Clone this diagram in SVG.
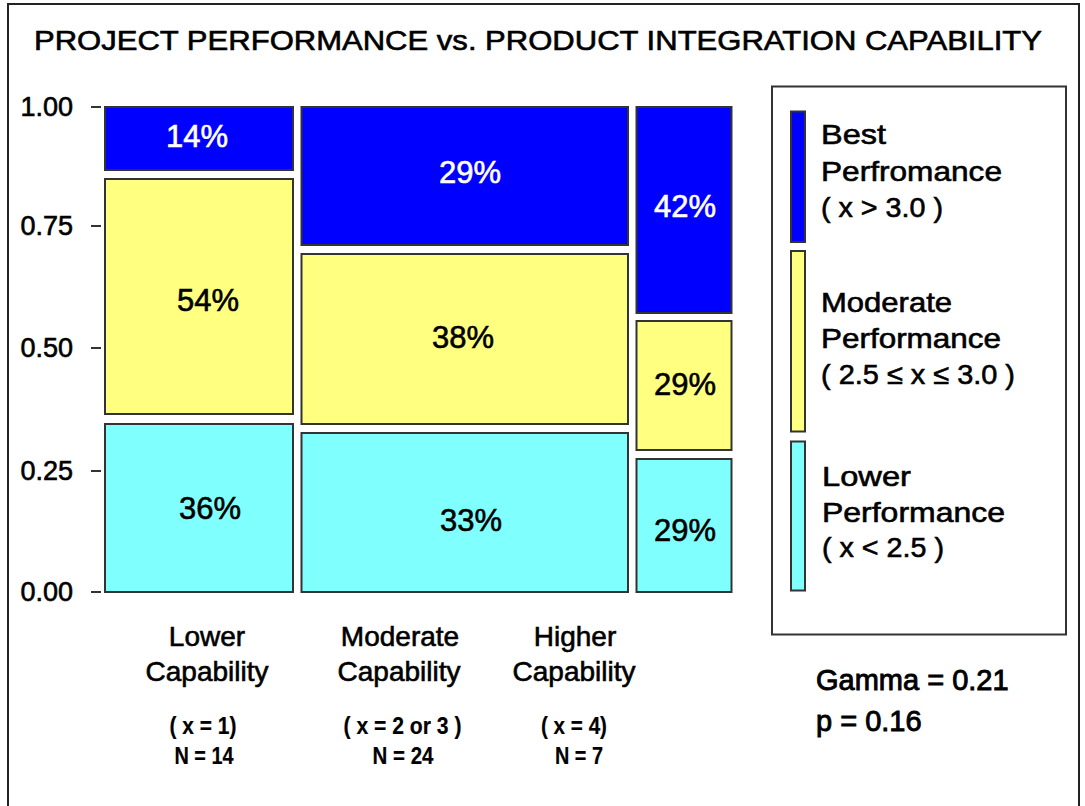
<svg xmlns="http://www.w3.org/2000/svg" width="1085" height="806" viewBox="0 0 1085 806">
<style>
text{font-family:"Liberation Sans",Arial,sans-serif;fill:#000;stroke:#000;stroke-width:0.6}
.bar{stroke:#333;stroke-width:2}
.b{fill:#0000ff}
.y{fill:#ffff80}
.c{fill:#80ffff}
.pct{font-size:31px;text-anchor:middle}
text.w{fill:#fff;stroke:#fff}
.ax{font-size:27px;text-anchor:end}
.tick{stroke:#333;stroke-width:2}
.cat{font-size:28px;text-anchor:middle}
.sub{font-size:23px;font-weight:bold;text-anchor:middle;stroke-width:0.2}
.leg{font-size:28px}
.stat{font-size:29px;stroke-width:0.9}
</style>
<rect x="0" y="0" width="1085" height="806" fill="#fff"/>
<rect id="frame" x="8" y="4" width="1071" height="830" fill="none" stroke="#222" stroke-width="2"/>
<text id="title" x="34" y="50" font-size="27" textLength="1008" lengthAdjust="spacingAndGlyphs">PROJECT PERFORMANCE vs. PRODUCT INTEGRATION  CAPABILITY</text>
<g id="axis">
<line class="tick" x1="91" y1="107" x2="101" y2="107"/>
<line class="tick" x1="91" y1="226" x2="101" y2="226"/>
<line class="tick" x1="91" y1="348" x2="101" y2="348"/>
<line class="tick" x1="91" y1="471" x2="101" y2="471"/>
<line class="tick" x1="91" y1="592" x2="101" y2="592"/>
<text class="ax" x="73" y="116">1.00</text>
<text class="ax" x="73" y="235">0.75</text>
<text class="ax" x="73" y="357">0.50</text>
<text class="ax" x="73" y="480">0.25</text>
<text class="ax" x="73" y="601">0.00</text>
</g>
<g id="col-lower">
<rect class="bar b" x="105" y="107" width="188" height="63"/>
<rect class="bar y" x="105" y="179" width="188" height="235"/>
<rect class="bar c" x="105" y="424" width="188" height="168"/>
<text class="pct w" x="197" y="147">14%</text>
<text class="pct" x="208" y="311">54%</text>
<text class="pct" x="210" y="519">36%</text>
</g>
<g id="col-moderate">
<rect class="bar b" x="301.5" y="107" width="326.5" height="138"/>
<rect class="bar y" x="301.5" y="254" width="326.5" height="170"/>
<rect class="bar c" x="301.5" y="433" width="326.5" height="159"/>
<text class="pct w" x="470" y="183">29%</text>
<text class="pct" x="463" y="348">38%</text>
<text class="pct" x="471" y="531">33%</text>
</g>
<g id="col-higher">
<rect class="bar b" x="636.5" y="107" width="95" height="206"/>
<rect class="bar y" x="636.5" y="321" width="95" height="129"/>
<rect class="bar c" x="636.5" y="459" width="95" height="133"/>
<text class="pct w" x="685" y="216.5">42%</text>
<text class="pct" x="685" y="395">29%</text>
<text class="pct" x="685" y="540.5">29%</text>
</g>
<g id="cat-lower">
<text class="cat" x="207" y="646">Lower</text>
<text class="cat" x="207" y="681">Capability</text>
<text class="sub" x="203" y="734" textLength="67" lengthAdjust="spacingAndGlyphs">( x = 1)</text>
<text class="sub" x="204" y="764" textLength="59" lengthAdjust="spacingAndGlyphs">N = 14</text>
</g>
<g id="cat-moderate">
<text class="cat" x="400" y="646">Moderate</text>
<text class="cat" x="399" y="681">Capability</text>
<text class="sub" x="402.5" y="734" textLength="118" lengthAdjust="spacingAndGlyphs">( x = 2 or 3 )</text>
<text class="sub" x="403" y="764" textLength="61" lengthAdjust="spacingAndGlyphs">N = 24</text>
</g>
<g id="cat-higher">
<text class="cat" x="575" y="646">Higher</text>
<text class="cat" x="574" y="681">Capability</text>
<text class="sub" x="574" y="734" textLength="66" lengthAdjust="spacingAndGlyphs">( x = 4)</text>
<text class="sub" x="579" y="764" textLength="48" lengthAdjust="spacingAndGlyphs">N = 7</text>
</g>
<g id="legend">
<rect x="772" y="86.5" width="294" height="548" fill="#fff" stroke="#333" stroke-width="2"/>
<rect class="bar b" x="791" y="111.5" width="14" height="130.5"/>
<rect class="bar y" x="791" y="251" width="14" height="180.5"/>
<rect class="bar c" x="791" y="441.5" width="14" height="149"/>
<text class="leg" x="821" y="144" textLength="65" lengthAdjust="spacingAndGlyphs">Best</text>
<text class="leg" x="821" y="181" textLength="181" lengthAdjust="spacingAndGlyphs">Perfromance</text>
<text class="leg" x="821" y="217" textLength="122" lengthAdjust="spacingAndGlyphs">( x &gt; 3.0 )</text>
<text class="leg" x="821" y="312" textLength="131" lengthAdjust="spacingAndGlyphs">Moderate</text>
<text class="leg" x="821" y="348" textLength="180" lengthAdjust="spacingAndGlyphs">Performance</text>
<text class="leg" x="821" y="384" textLength="194" lengthAdjust="spacingAndGlyphs">( 2.5 ≤ x ≤ 3.0 )</text>
<text class="leg" x="822" y="486" textLength="89" lengthAdjust="spacingAndGlyphs">Lower</text>
<text class="leg" x="822" y="522" textLength="183" lengthAdjust="spacingAndGlyphs">Performance</text>
<text class="leg" x="822" y="557" textLength="122" lengthAdjust="spacingAndGlyphs">( x &lt; 2.5 )</text>
</g>
<g id="stats">
<text class="stat" x="816" y="690">Gamma =  0.21</text>
<text class="stat" x="816" y="731">p = 0.16</text>
</g>
</svg>
